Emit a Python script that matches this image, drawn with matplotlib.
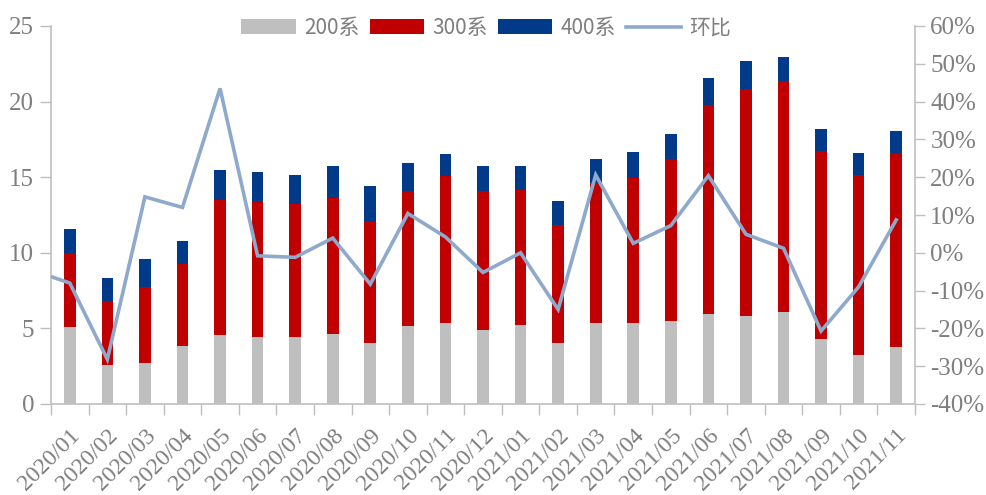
import numpy as np
import matplotlib
matplotlib.use("Agg")
import matplotlib.pyplot as plt
from matplotlib.ticker import FuncFormatter

# months shown on the x axis
months = [
    "2020/01", "2020/02", "2020/03", "2020/04", "2020/05", "2020/06",
    "2020/07", "2020/08", "2020/09", "2020/10", "2020/11", "2020/12",
    "2021/01", "2021/02", "2021/03", "2021/04", "2021/05", "2021/06",
    "2021/07", "2021/08", "2021/09", "2021/10", "2021/11",
]

# volumes per series (stacked)
s200 = [5.07, 2.58, 2.73, 3.84, 4.56, 4.43, 4.43, 4.65, 4.06, 5.16, 5.34, 4.87,
        5.25, 4.06, 5.34, 5.34, 5.47, 5.97, 5.84, 6.06, 4.28, 3.24, 3.75]
s300 = [4.90, 4.23, 5.03, 5.40, 8.95, 8.93, 8.80, 8.95, 8.02, 8.95, 9.76, 9.22,
        8.90, 7.80, 9.26, 9.63, 10.71, 13.81, 15.02, 15.30, 12.45, 11.93, 12.83]
s400 = [1.63, 1.52, 1.85, 1.52, 1.94, 1.96, 1.94, 2.16, 2.36, 1.81, 1.46, 1.63,
        1.61, 1.57, 1.62, 1.67, 1.70, 1.78, 1.80, 1.57, 1.44, 1.41, 1.48]

# month-on-month change (%), first value is the month before 2020/01 (clipped)
ratio_prev = -4.6
ratio = [-8.0, -28.2, 14.8, 12.0, 43.5, -0.8, -1.2, 3.9, -8.3, 10.4, 4.2, -5.2,
         0.0, -15.0, 20.6, 2.5, 7.2, 20.4, 4.9, 1.2, -20.7, -9.0, 8.7]

C200 = "#BFBFBF"
C300 = "#C00000"
C400 = "#003A88"
CLINE = "#8EA9CB"
AXC = "#BFBFBF"
TXC = "#7F7F7F"

plt.rcParams["font.family"] = ["Liberation Serif", "DejaVu Serif"]

fig = plt.figure(figsize=(9.86, 4.95), dpi=100)
ax = fig.add_axes([51 / 986, 1 - 404 / 495, (915 - 51) / 986, (404 - 26) / 495])

x = np.arange(len(months))
w = 0.31
b1 = ax.bar(x, s200, w, color=C200, label="200系", zorder=2)
b2 = ax.bar(x, s300, w, bottom=s200, color=C300, label="300系", zorder=2)
bot3 = np.array(s200) + np.array(s300)
b3 = ax.bar(x, s400, w, bottom=bot3, color=C400, label="400系", zorder=2)

ax.set_xlim(-0.5, len(months) - 0.5)
ax.set_ylim(0, 25)
ax.set_yticks(range(0, 26, 5))

# tick marks at category boundaries, labels at centres
ax.set_xticks(np.arange(-0.5, len(months), 1))
ax.set_xticklabels([])
ax.set_xticks(x, minor=True)
ax.set_xticklabels(months, minor=True, rotation=45, ha="right",
                   rotation_mode="anchor", fontsize=17, color=TXC)
ax.tick_params(axis="x", which="minor", length=0, pad=15)
ax.tick_params(axis="x", which="major", length=8, width=1, color=AXC)
ax.tick_params(axis="y", length=8, width=1, color=AXC, labelsize=18,
               labelcolor=TXC, pad=4)

ax.spines["top"].set_visible(False)
ax.spines["right"].set_visible(False)
for s in ("left", "bottom"):
    ax.spines[s].set_color(AXC)
    ax.spines[s].set_linewidth(1.2)

ax2 = ax.twinx()
xl = np.arange(-1, len(months))
ln, = ax2.plot(xl, [ratio_prev] + ratio, color=CLINE, lw=2.6, label="环比",
               solid_joinstyle="miter")
ax2.set_ylim(-40, 60)
ax2.set_yticks(range(-40, 61, 10))
ax2.yaxis.set_major_formatter(FuncFormatter(lambda v, p: f"{v:.0f}%"))
ax2.tick_params(axis="y", length=7, width=1, color=AXC, labelsize=18,
                labelcolor=TXC, pad=4)
for s in ("top", "left", "bottom"):
    ax2.spines[s].set_visible(False)
ax2.spines["right"].set_color(AXC)
ax2.spines["right"].set_linewidth(1.2)
ax.set_xlim(-0.5, len(months) - 0.5)

leg = fig.legend(handles=[b1, b2, b3, ln], loc="center",
                 bbox_to_anchor=(0.493, 1 - 28 / 495), ncol=4, frameon=False,
                 prop={"family": ["Noto Sans CJK SC", "DejaVu Sans"], "size": 15},
                 handlelength=2.6, handleheight=0.75, handletextpad=0.4,
                 columnspacing=0.5, labelcolor=TXC)

fig.savefig("out.png", dpi=100)
